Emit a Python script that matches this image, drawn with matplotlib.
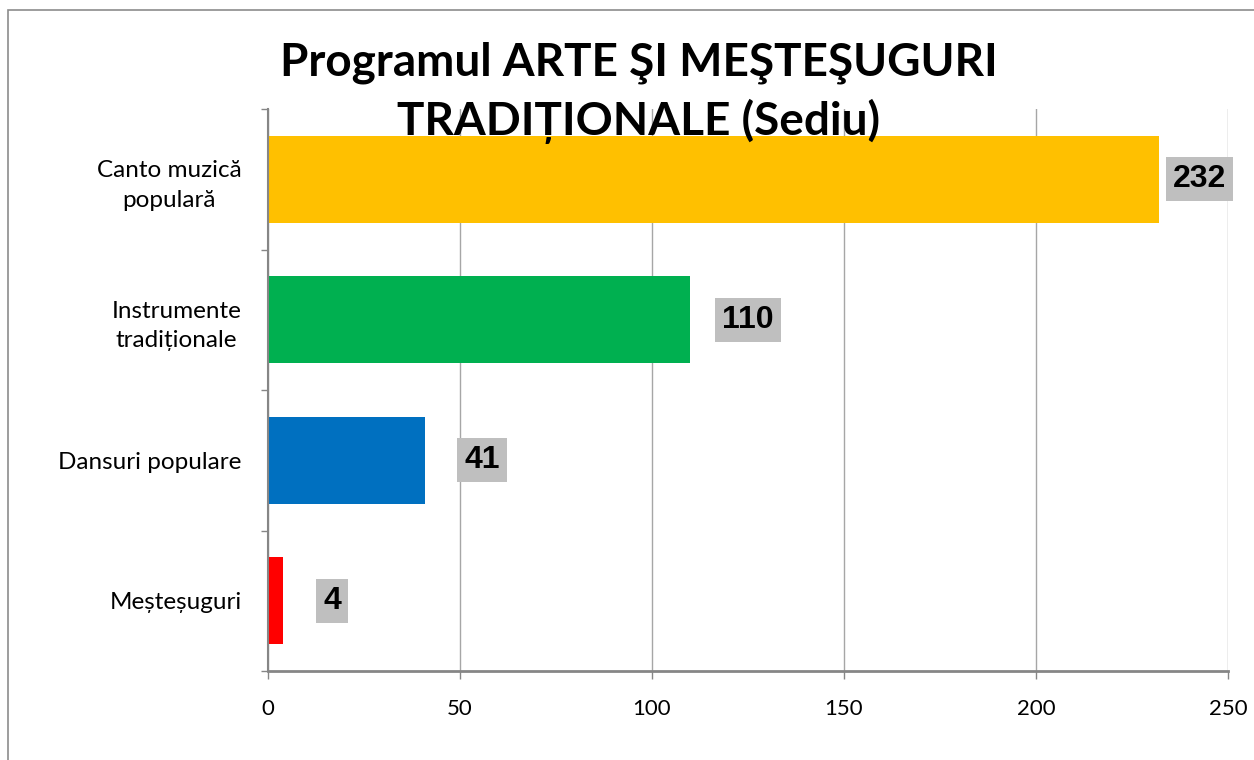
import matplotlib.pyplot as plt
from matplotlib.patches import Rectangle

# data
categories = ["Canto muzică\npopulară", "Instrumente\ntradiționale",
              "Dansuri populare", "Meșteșuguri"]
values = [232, 110, 41, 4]
bar_colors = ["#FFC000", "#00B050", "#0070C0", "#FF0000"]
x_ticks = [0, 50, 100, 150, 200, 250]
title = "Programul ARTE ŞI MEŞTEŞUGURI\nTRADIȚIONALE (Sediu)"

# per-label horizontal nudge (px) used by the original layout
label_nudge = [14, 32, 39, 40]

plt.rcParams['font.family'] = ['Lato', 'DejaVu Sans']

fig = plt.figure(figsize=(12.54, 7.6), dpi=100)
ax = fig.add_axes([268 / 1254, 1 - 671 / 760, 960 / 1254, 562 / 760])

# outer chart border
fig.patches.append(Rectangle((8 / 1254, -0.05), 1.1, 1 - 10 / 760 + 0.05,
                             transform=fig.transFigure, fill=False,
                             edgecolor="#8C8C8C", linewidth=1.2))

pos = list(range(len(values)))
ax.barh(pos, values, height=0.62, color=bar_colors, zorder=2)

ax.set_xlim(0, 250)
ax.set_ylim(len(values) - 0.5, -0.5)
ax.set_xticks(x_ticks)
ax.set_xticklabels([str(t) for t in x_ticks], fontsize=16)
ax.set_yticks(pos)
ax.set_yticklabels(categories, fontsize=17.5, multialignment="center",
                   linespacing=1.5)
ax.set_yticks([p - 0.5 for p in pos] + [len(values) - 0.5], minor=True)
ax.tick_params(axis="y", which="major", length=0, pad=19)
ax.tick_params(axis="y", which="minor", length=5, color="#868686", width=1)
ax.tick_params(axis="x", length=6, color="#868686", width=1, pad=14)

ax.grid(axis="x", color="#A6A6A6", linewidth=1, zorder=0)
for side in ["top", "right"]:
    ax.spines[side].set_visible(False)
ax.spines["left"].set_color("#868686")
ax.spines["left"].set_linewidth(1.5)
ax.spines["bottom"].set_color("#868686")
ax.spines["bottom"].set_linewidth(2)

for i, v in enumerate(values):
    ax.annotate(str(v), xy=(v, i), xytext=(label_nudge[i] * 0.72, 0),
                textcoords="offset points", ha="left", va="center",
                fontsize=23, fontweight="bold", family="Liberation Sans",
                bbox=dict(boxstyle="square,pad=0.22", fc="#BFBFBF", ec="none"),
                zorder=4)

fig.text(639 / 1254, 1 - 93 / 760, title, ha="center", va="center",
         fontsize=33, fontweight="bold", linespacing=1.4, zorder=5)

fig.savefig("out.png", dpi=100)
